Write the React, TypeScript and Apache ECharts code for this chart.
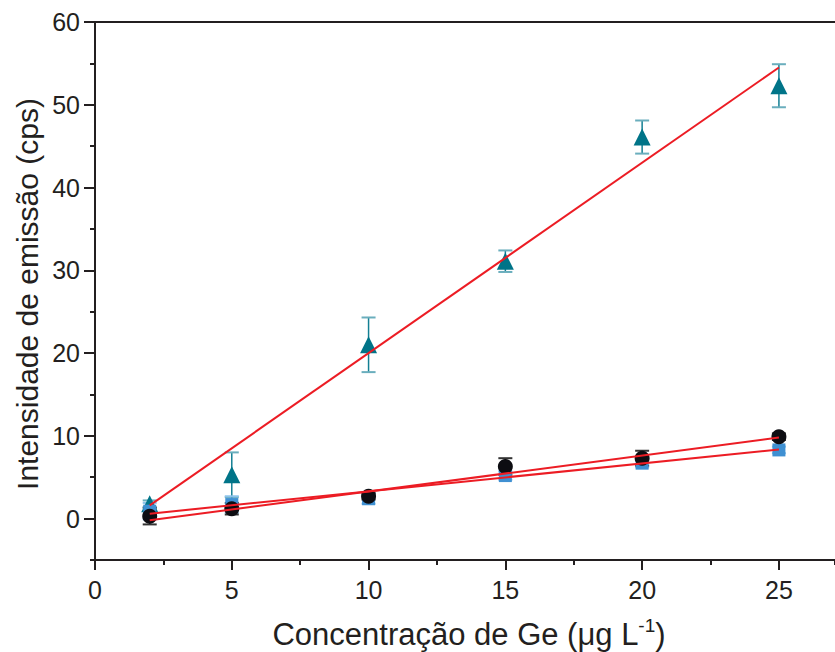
import React, { useEffect, useRef } from "react";
import * as echarts from "echarts";

// Concentrations (µg L-1)
const conc = [2, 5, 10, 15, 20, 25];
// Triangle series
const triY = [1.8, 5.3, 21.0, 31.1, 46.1, 52.3];
const triErr = [0.4, 2.7, 3.3, 1.3, 2.0, 2.6];
// Circle series
const cirY = [0.3, 1.2, 2.7, 6.3, 7.3, 9.9];
const cirErr = [1.0, 0.7, 0.4, 1.0, 0.9, 0.4];
// Square series
const sqY = [0.9, 1.7, 2.4, 5.2, 6.7, 8.3];
const sqErr = [1.0, 1.0, 0.6, 0.5, 0.5, 0.4];
// Fitted lines (end points)
const triFit = [[2, 1.6], [25, 54.5]];
const cirFit = [[2, -0.2], [25, 9.8]];
const sqFit = [[2, 0.6], [25, 8.35]];

const xMajor = [0, 5, 10, 15, 20, 25];
const yMajor = [0, 10, 20, 30, 40, 50, 60];

const X_MIN = 0;
const X_MAX = 27.05;
const Y_MIN = -5;
const Y_MAX = 60;

const AXIS_COLOR = "#231f20";
const FONT = "'Liberation Sans', Arial, sans-serif";

function errSeries(name: string, ys: number[], errs: number[], stem: string, cap: string) {
  return {
    name,
    type: "custom",
    xAxisIndex: 0,
    yAxisIndex: 0,
    data: conc.map((x, i) => [x, ys[i], errs[i]]),
    encode: { x: 0, y: [1] },
    renderItem: (params: any, api: any) => {
      const x = api.value(0);
      const y = api.value(1);
      const e = api.value(2);
      const top = api.coord([x, y + e]);
      const bot = api.coord([x, y - e]);
      const hw = 7;
      return {
        type: "group",
        children: [
          { type: "line", shape: { x1: top[0], y1: top[1], x2: bot[0], y2: bot[1] }, style: { stroke: stem, lineWidth: 1.5 } },
          { type: "line", shape: { x1: top[0] - hw, y1: top[1], x2: top[0] + hw, y2: top[1] }, style: { stroke: cap, lineWidth: 2 } },
          { type: "line", shape: { x1: bot[0] - hw, y1: bot[1], x2: bot[0] + hw, y2: bot[1] }, style: { stroke: cap, lineWidth: 2 } },
        ],
      };
    },
    z: 2,
  };
}

function scatter(name: string, ys: number[], symbol: string, size: number, color: string) {
  return {
    name,
    type: "scatter",
    xAxisIndex: 0,
    yAxisIndex: 0,
    symbol,
    symbolSize: size,
    itemStyle: { color, opacity: 1 },
    data: conc.map((x, i) => [x, ys[i]]),
    z: 3,
  };
}

function fitLine(name: string, pts: number[][]) {
  return {
    name,
    type: "line",
    xAxisIndex: 0,
    yAxisIndex: 0,
    data: pts,
    symbol: "none",
    lineStyle: { color: "#ec1c24", width: 2 },
    z: 5,
  };
}

export default function App() {
  const ref = useRef<HTMLDivElement>(null);
  useEffect(() => {
    if (!ref.current) return;
    const chart = echarts.init(ref.current, null, { renderer: "svg" });
    const lineStyle = { color: AXIS_COLOR, width: 2 };
    chart.setOption({
      animation: false,
      backgroundColor: "#ffffff",
      grid: { left: 95, top: 22, right: 0, bottom: 92, containLabel: false },
      xAxis: [
        {
          type: "value",
          position: "bottom",
          min: X_MIN,
          max: X_MAX,
          interval: 2.5,
          axisLine: { show: true, onZero: false, lineStyle },
          axisTick: { show: true, inside: false, length: 5, lineStyle },
          axisLabel: { show: false },
          splitLine: { show: false },
        },
        {
          type: "value",
          position: "bottom",
          min: X_MIN,
          max: X_MAX,
          interval: 5,
          axisLine: { show: false, onZero: false },
          axisTick: { show: true, inside: false, length: 10, lineStyle, customValues: xMajor },
          axisLabel: {
            show: true,
            margin: 17,
            customValues: xMajor,
            color: AXIS_COLOR,
            fontFamily: FONT,
            fontSize: 25,
            formatter: (v: number) => (xMajor.indexOf(v) >= 0 ? String(v) : ""),
          },
          splitLine: { show: false },
        },
        {
          type: "value",
          position: "top",
          min: X_MIN,
          max: X_MAX,
          axisLine: { show: true, onZero: false, lineStyle },
          axisTick: { show: false },
          axisLabel: { show: false },
          splitLine: { show: false },
        },
      ],
      yAxis: [
        {
          type: "value",
          position: "left",
          min: Y_MIN,
          max: Y_MAX,
          interval: 5,
          axisLine: { show: true, onZero: false, lineStyle },
          axisTick: { show: true, inside: false, length: 5, lineStyle },
          axisLabel: { show: false },
          splitLine: { show: false },
        },
        {
          type: "value",
          position: "left",
          min: Y_MIN,
          max: Y_MAX,
          interval: 5,
          axisLine: { show: false, onZero: false },
          axisTick: { show: true, inside: false, length: 11, lineStyle, customValues: yMajor },
          axisLabel: {
            show: true,
            margin: 15,
            customValues: yMajor,
            color: AXIS_COLOR,
            fontFamily: FONT,
            fontSize: 25,
            formatter: (v: number) => (yMajor.indexOf(v) >= 0 ? String(v) : ""),
          },
          splitLine: { show: false },
        },
      ],
      series: [
        errSeries("tri-err", triY, triErr, "#137f93", "#6aaebd"),
        errSeries("sq-err", sqY, sqErr, "#3a8fd0", "#8cc3ea"),
        errSeries("cir-err", cirY, cirErr, "#111111", "#333333"),
        scatter("triangles", triY, "triangle", 17, "#007488"),
        scatter("squares", sqY, "rect", 13, "#3f90d2"),
        scatter("circles", cirY, "circle", 15, "#0d0d12"),
        fitLine("tri-fit", triFit),
        fitLine("cir-fit", cirFit),
        fitLine("sq-fit", sqFit),
      ],
      graphic: [
        {
          type: "text",
          x: 27,
          y: 294,
          rotation: Math.PI / 2,
          style: {
            text: "Intensidade de emissão (cps)",
            fontFamily: FONT,
            fontSize: 30,
            fill: AXIS_COLOR,
            align: "center",
            verticalAlign: "middle",
          },
        },
        {
          type: "text",
          x: 469,
          y: 633,
          style: {
            text: "{a|Concentração de Ge (μg L}{s|-1}{a|)}",
            fontFamily: FONT,
            fontSize: 31,
            fill: AXIS_COLOR,
            align: "center",
            verticalAlign: "middle",
            rich: {
              a: { fontFamily: FONT, fontSize: 31, fill: AXIS_COLOR, lineHeight: 34, verticalAlign: "bottom" },
              s: { fontFamily: FONT, fontSize: 19, fill: AXIS_COLOR, lineHeight: 34, verticalAlign: "top" },
            },
          },
        },
      ],
    });
    return () => chart.dispose();
  }, []);
  return <div ref={ref} style={{ width: 835, height: 652, position: "absolute", left: 0, top: 0 }} />;
}
